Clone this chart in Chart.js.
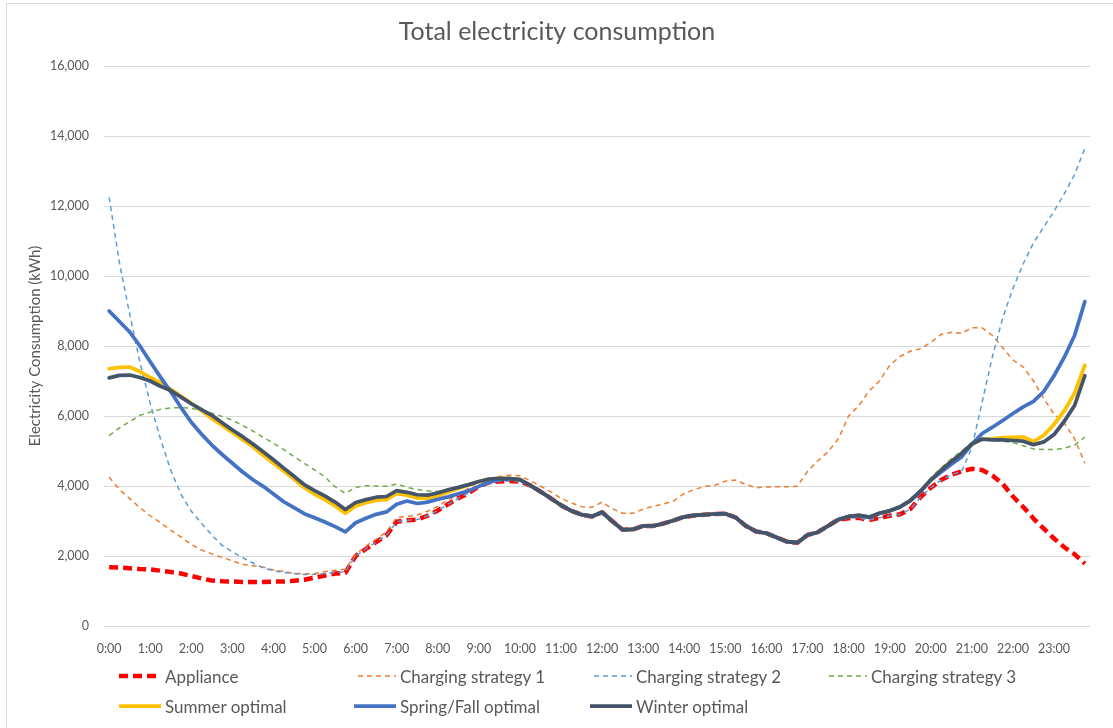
<!DOCTYPE html>
<html>
<head>
<meta charset="utf-8">
<script src="https://cdn.jsdelivr.net/npm/chart.js@4.4.1/dist/chart.umd.min.js"></script>
<style>
  html, body { margin: 0; padding: 0; background: #ffffff; }
  #wrap { position: relative; width: 1113px; height: 728px; overflow: hidden; font-family: Lato, "Open Sans", sans-serif; }
  #frame { position: absolute; left: 6px; top: 3px; width: 1200px; height: 800px; border: 1px solid #D9D9D9; box-sizing: border-box; }
  #c { position: absolute; left: 0; top: 0; }
  .leg { position: absolute; display: flex; align-items: center; height: 20px; font-size: 17px; color: #595959; white-space: nowrap; }
  .leg svg { margin-right: 4px; }
</style>
</head>
<body>
<div id="wrap">
  <div id="frame"></div>
  <canvas id="c" width="1113" height="728"></canvas>
  <div id="legend"></div>
</div>
<script>
// Quarter-hour categories
const times = [
  "0:00","0:15","0:30","0:45","1:00","1:15","1:30","1:45","2:00","2:15","2:30","2:45",
  "3:00","3:15","3:30","3:45","4:00","4:15","4:30","4:45","5:00","5:15","5:30","5:45",
  "6:00","6:15","6:30","6:45","7:00","7:15","7:30","7:45","8:00","8:15","8:30","8:45",
  "9:00","9:15","9:30","9:45","10:00","10:15","10:30","10:45","11:00","11:15","11:30","11:45",
  "12:00","12:15","12:30","12:45","13:00","13:15","13:30","13:45","14:00","14:15","14:30","14:45",
  "15:00","15:15","15:30","15:45","16:00","16:15","16:30","16:45","17:00","17:15","17:30","17:45",
  "18:00","18:15","18:30","18:45","19:00","19:15","19:30","19:45","20:00","20:15","20:30","20:45",
  "21:00","21:15","21:30","21:45","22:00","22:15","22:30","22:45","23:00","23:15","23:30","23:45"
];

// Hourly axis labels
const hourLabels = [
  "0:00","1:00","2:00","3:00","4:00","5:00","6:00","7:00","8:00","9:00","10:00","11:00",
  "12:00","13:00","14:00","15:00","16:00","17:00","18:00","19:00","20:00","21:00","22:00","23:00"
];

// Electricity consumption (kWh) per quarter hour
const appliance = [
  1680,1670,1650,1630, 1620,1580,1540,1500, 1430,1360,1300,1280, 1270,1260,1260,1260,
  1270,1270,1290,1320, 1380,1440,1500,1520, 2000,2200,2400,2590, 2980,3020,3040,3150,
  3300,3480,3650,3800, 3990,4100,4130,4140, 4130,4020,3840,3650, 3450,3290,3180,3130,
  3250,2990,2750,2760, 2860,2860,2930,3020, 3120,3160,3180,3200, 3210,3100,2860,2700,
  2650,2530,2410,2380, 2600,2680,2860,3040, 3080,3090,3030,3090, 3150,3190,3340,3680,
  3950,4170,4320,4420, 4490,4460,4300,4060, 3700,3400,3070,2780, 2500,2250,2050,1780
];

const strategy1 = [
  4250,3900,3640,3380, 3150,2950,2740,2540, 2330,2170,2060,1960, 1860,1760,1720,1680,
  1600,1560,1500,1490, 1500,1550,1590,1620, 2050,2280,2480,2690, 3100,3130,3170,3280,
  3420,3600,3760,3930, 4130,4200,4270,4310, 4290,4150,4000,3830, 3650,3520,3410,3390,
  3540,3350,3220,3220, 3340,3420,3490,3580, 3790,3900,3990,4020, 4140,4170,4040,3950,
  3970,3980,3980,3990, 4420,4720,4980,5350, 6000,6300,6720,7000, 7450,7700,7850,7920,
  8100,8330,8390,8360, 8520,8520,8300,7950, 7600,7400,7000,6500, 6050,5800,5350,4650
];

const strategy2 = [
  12250,10380,8910,7530, 6360,5340,4450,3760, 3280,2930,2600,2300, 2120,1950,1800,1660,
  1580,1530,1500,1470, 1475,1500,1530,1550, 2000,2200,2400,2590, 2980,3020,3040,3150,
  3300,3480,3650,3800, 3990,4100,4130,4140, 4130,4020,3840,3650, 3450,3290,3180,3130,
  3250,2990,2750,2760, 2860,2860,2930,3020, 3120,3160,3180,3200, 3210,3100,2860,2700,
  2650,2530,2410,2380, 2600,2680,2860,3040, 3080,3090,3030,3090, 3150,3190,3340,3680,
  3950,4170,4320,4420, 5100,6400,7700,8800, 9650,10350,10950,11400, 11850,12350,12900,13650
];

const strategy3 = [
  5440,5660,5840,6020, 6110,6190,6230,6240, 6220,6160,6080,5990, 5880,5730,5570,5390,
  5220,5040,4840,4650, 4460,4260,3980,3790, 3960,4010,4000,3990, 4060,3960,3900,3860,
  3850,3890,3960,4040, 4130,4200,4220,4210, 4180,4020,3840,3650, 3450,3290,3180,3130,
  3250,2990,2750,2760, 2860,2860,2930,3020, 3120,3160,3180,3200, 3210,3100,2860,2700,
  2650,2530,2410,2380, 2600,2680,2860,3040, 3130,3160,3110,3230, 3310,3440,3630,3910,
  4230,4520,4780,5000, 5230,5330,5300,5280, 5240,5150,5060,5040, 5040,5080,5170,5400
];

const summerOptimal = [
  7350,7390,7400,7270, 7100,6950,6760,6560, 6360,6150,5930,5730, 5530,5320,5120,4880,
  4650,4430,4200,3950, 3770,3610,3430,3220, 3430,3520,3590,3610, 3790,3740,3660,3650,
  3720,3830,3930,4030, 4130,4200,4220,4210, 4180,4020,3840,3650, 3450,3290,3180,3130,
  3250,2990,2750,2760, 2860,2860,2930,3020, 3120,3160,3180,3200, 3210,3100,2860,2700,
  2650,2530,2410,2380, 2600,2680,2860,3040, 3130,3160,3110,3220, 3290,3400,3580,3850,
  4170,4450,4700,4930, 5200,5340,5350,5380, 5390,5400,5270,5450, 5760,6150,6650,7450
];

const springFallOptimal = [
  9000,8700,8400,8000, 7550,7110,6690,6240, 5820,5480,5170,4900, 4650,4400,4180,3990,
  3770,3550,3380,3210, 3090,2970,2840,2690, 2950,3080,3190,3260, 3480,3570,3500,3540,
  3620,3690,3780,3860, 3990,4100,4190,4210, 4180,4020,3840,3650, 3450,3290,3180,3130,
  3250,2990,2750,2760, 2860,2860,2930,3020, 3120,3160,3180,3200, 3210,3100,2860,2700,
  2650,2530,2410,2380, 2600,2680,2860,3040, 3130,3160,3110,3220, 3290,3400,3580,3850,
  4170,4400,4620,4830, 5200,5500,5680,5870, 6070,6260,6420,6700, 7150,7680,8300,9270
];

const winterOptimal = [
  7090,7160,7170,7100, 7000,6850,6730,6540, 6350,6180,6020,5810, 5600,5410,5200,4980,
  4750,4510,4280,4040, 3870,3720,3540,3330, 3530,3610,3680,3700, 3870,3820,3750,3740,
  3800,3890,3960,4040, 4130,4200,4220,4210, 4180,4020,3840,3650, 3450,3290,3180,3130,
  3250,2990,2750,2760, 2860,2860,2930,3020, 3120,3160,3180,3200, 3210,3100,2860,2700,
  2650,2530,2410,2380, 2600,2680,2860,3040, 3130,3160,3110,3220, 3290,3400,3580,3850,
  4170,4450,4700,4930, 5200,5340,5320,5320, 5300,5280,5180,5260, 5470,5850,6300,7150
];

const TEXT = '#595959';
const FONT = 'Lato, "Open Sans", sans-serif';

// Later series sit on top (higher order = drawn earlier)
const seriesDefs = [
  { label: 'Appliance',           data: appliance,         color: '#FF0000', width: 4.5, dash: [9, 5] },
  { label: 'Charging strategy 1', data: strategy1,         color: '#ED7D31', width: 1.5, dash: [5, 4] },
  { label: 'Charging strategy 2', data: strategy2,         color: '#5B9BD5', width: 1.5, dash: [5, 4] },
  { label: 'Charging strategy 3', data: strategy3,         color: '#70AD47', width: 1.5, dash: [5, 4] },
  { label: 'Summer optimal',      data: summerOptimal,     color: '#FFC000', width: 3.75, dash: [] },
  { label: 'Spring/Fall optimal', data: springFallOptimal, color: '#4472C4', width: 3.75, dash: [] },
  { label: 'Winter optimal',      data: winterOptimal,     color: '#44546A', width: 3.75, dash: [] }
];

const datasets = seriesDefs.map((s, i) => ({
  label: s.label,
  data: s.data,
  borderColor: s.color,
  backgroundColor: s.color,
  borderWidth: s.width,
  borderDash: s.dash,
  borderCapStyle: s.dash.length ? 'butt' : 'round',
  borderJoinStyle: 'round',
  pointRadius: 0,
  tension: 0,
  fill: false,
  order: seriesDefs.length - i
}));

new Chart(document.getElementById('c'), {
  type: 'line',
  data: { labels: times, datasets },
  options: {
    responsive: false,
    animation: false,
    devicePixelRatio: 1,
    layout: { padding: { left: 24, right: 23, top: 0, bottom: 62 } },
    plugins: {
      legend: { display: false },
      tooltip: { enabled: false },
      title: {
        display: true,
        text: 'Total electricity consumption',
        color: TEXT,
        font: { family: FONT, size: 25, weight: 'normal', lineHeight: 1.2 },
        padding: { top: 17, bottom: 19 }
      }
    },
    scales: {
      x: {
        offset: true,
        grid: { display: false },
        border: { display: false },
        ticks: {
          autoSkip: false,
          maxRotation: 0,
          minRotation: 0,
          padding: 7,
          color: TEXT,
          font: { family: FONT, size: 12.5 },
          callback: (value, index) => (index % 4 === 0 ? hourLabels[index / 4] : '')
        },
        afterFit: (scale) => { scale.height = 40; }
      },
      y: {
        min: 0,
        max: 16000,
        grid: { color: '#D9D9D9', lineWidth: 1, drawTicks: false },
        border: { display: false },
        ticks: {
          stepSize: 2000,
          padding: 15,
          color: TEXT,
          font: { family: FONT, size: 12.5 },
          callback: (value) => value.toLocaleString('en-US')
        },
        title: {
          display: true,
          text: 'Electricity Consumption (kWh)',
          color: TEXT,
          font: { family: FONT, size: 15 },
          padding: { top: 2, bottom: 4 }
        },
        afterFit: (scale) => { scale.width = 80; }
      }
    }
  }
});

// Legend: four columns, two rows
const legend = document.getElementById('legend');
const colText = [165, 400, 636, 871];
const rowY = [676, 706];
seriesDefs.forEach((s, k) => {
  const col = k % 4, row = Math.floor(k / 4);
  const item = document.createElement('div');
  item.className = 'leg';
  item.style.left = (colText[col] - 46) + 'px';
  item.style.top = (rowY[row] - 10) + 'px';
  const solid = !s.dash.length;
  const x1 = s.width > 2 ? 0 : 4;
  const svg = `<svg width="42" height="10" viewBox="0 0 42 10">
    <line x1="${x1}" y1="5" x2="42" y2="5" stroke="${s.color}" stroke-width="${s.width}"
      stroke-dasharray="${solid ? 'none' : s.dash.join(',')}" stroke-linecap="${solid ? 'round' : 'butt'}"/></svg>`;
  item.innerHTML = svg + '<span>' + s.label + '</span>';
  legend.appendChild(item);
});
</script>
</body>
</html>
